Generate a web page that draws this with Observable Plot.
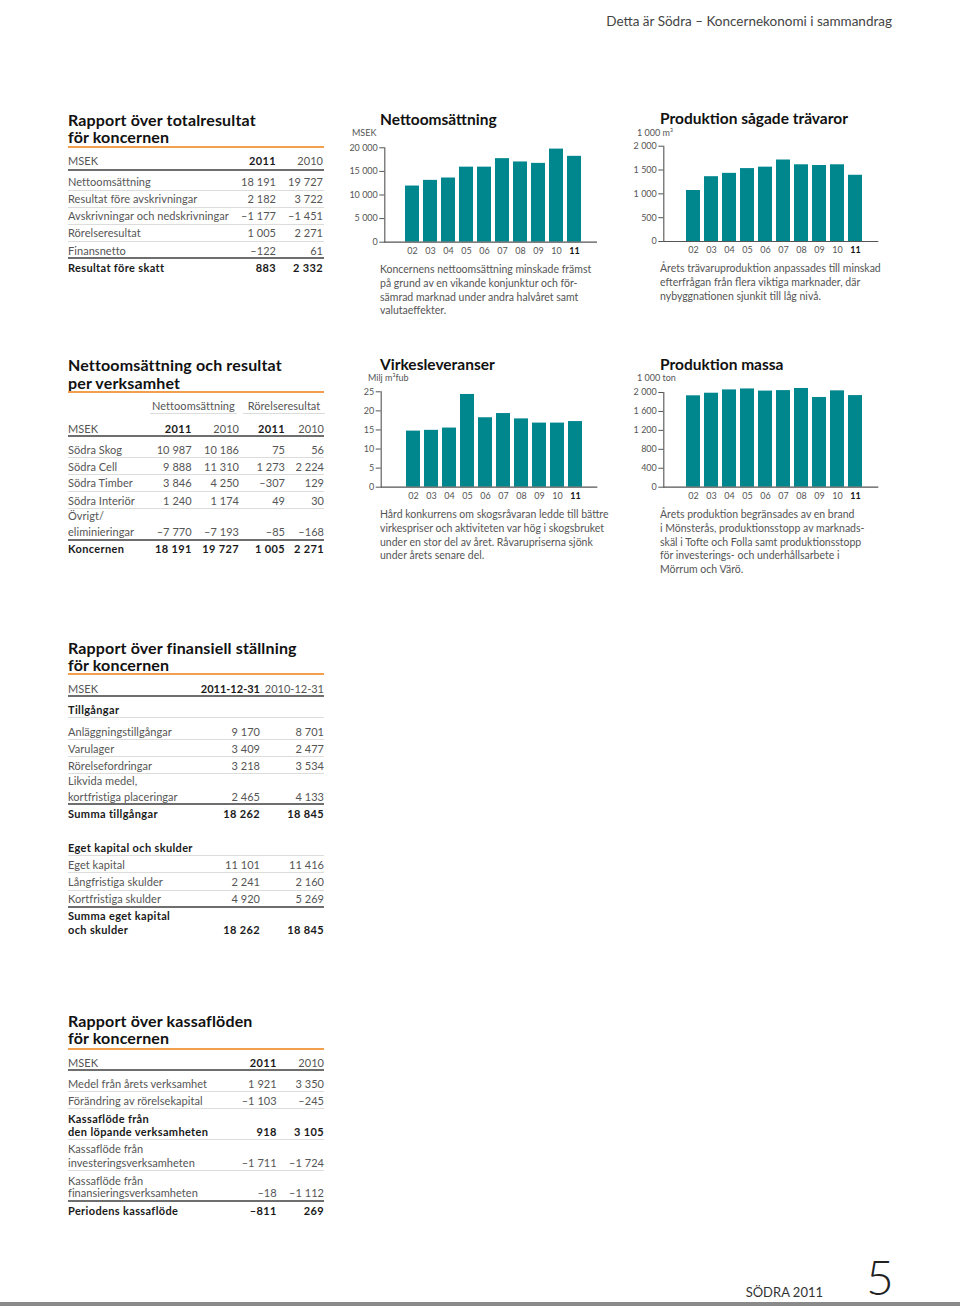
<!DOCTYPE html>
<html><head><meta charset="utf-8">
<script src="https://cdn.jsdelivr.net/npm/d3@7"></script>
<script src="https://cdn.jsdelivr.net/npm/@observablehq/plot@0.6"></script>
<style>
html,body{margin:0;padding:0;background:#fff;}
#page{position:relative;width:960px;height:1306px;overflow:hidden;font-family:Lato,"Open Sans",sans-serif;color:#555;}
.t{position:absolute;white-space:pre;}
.hl{position:absolute;}
#page svg{position:absolute;overflow:visible;}
#page g[aria-label="x-axis tick label"] text:last-of-type{font-weight:700;fill:#111;}
</style></head>
<body><div id="page"></div>
<script>
// ---------- DATA ----------
const years = ["02","03","04","05","06","07","08","09","10","11"];
const nettoSales = [11900,13100,13600,15900,15900,17700,17000,16700,19727,18191];
const sawnTimber = [1070,1360,1430,1530,1560,1710,1610,1595,1610,1390];
const woodDeliveries = [14.7,14.9,15.5,24.3,18.2,19.3,17.9,16.8,16.8,17.2];
const pulpProduction = [1930,1985,2055,2075,2030,2040,2085,1895,2035,1935];

const nettoTicks = [0,5000,10000,15000,20000];
const sawnTicks = [0,500,1000,1500,2000];
const woodTicks = [0,5,10,15,20,25];
const pulpTicks = [0,400,800,1200,1600,2000];

// Table 1
const t1Header = ["MSEK","2011","2010"];
const t1Labels = ["Nettoomsättning","Resultat före avskrivningar","Avskrivningar och nedskrivningar","Rörelseresultat","Finansnetto","Resultat före skatt"];
const t1V2011 = ["18 191","2 182","–1 177","1 005","–122","883"];
const t1V2010 = ["19 727","3 722","–1 451","2 271","61","2 332"];

// Table 2
const t2Groups = ["Nettoomsättning","Rörelseresultat"];
const t2Header = ["MSEK","2011","2010","2011","2010"];
const t2Labels = ["Södra Skog","Södra Cell","Södra Timber","Södra Interiör","Övrigt/\neliminieringar","Koncernen"];
const t2Net2011 = ["10 987","9 888","3 846","1 240","–7 770","18 191"];
const t2Net2010 = ["10 186","11 310","4 250","1 174","–7 193","19 727"];
const t2Op2011 = ["75","1 273","–307","49","–85","1 005"];
const t2Op2010 = ["56","2 224","129","30","–168","2 271"];

// Table 3
const t3Header = ["MSEK","2011-12-31","2010-12-31"];
const t3Labels = ["Tillgångar","Anläggningstillgångar","Varulager","Rörelsefordringar","Likvida medel,\nkortfristiga placeringar","Summa tillgångar","Eget kapital och skulder","Eget kapital","Långfristiga skulder","Kortfristiga skulder","Summa eget kapital\noch skulder"];
const t3V2011 = ["","9 170","3 409","3 218","2 465","18 262","","11 101","2 241","4 920","18 262"];
const t3V2010 = ["","8 701","2 477","3 534","4 133","18 845","","11 416","2 160","5 269","18 845"];

// Table 4
const t4Header = ["MSEK","2011","2010"];
const t4Labels = ["Medel från årets verksamhet","Förändring av rörelsekapital","Kassaflöde från\nden löpande verksamheten","Kassaflöde från\ninvesteringsverksamheten","Kassaflöde från\nfinansieringsverksamheten","Periodens kassaflöde"];
const t4V2011 = ["1 921","–1 103","918","–1 711","–18","–811"];
const t4V2010 = ["3 350","–245","3 105","–1 724","–1 112","269"];

// ---------- HELPERS ----------
const page = document.getElementById("page");
const TEAL = "#00868d";
const ORANGE = "#f2a04e";
const DARK = "#6e6e6e";
const LIGHT = "#dcdcdc";

function place(text, x, cy, o = {}) {
  const d = document.createElement("div");
  d.className = "t";
  const fs = o.fs || 10.5, lh = o.lh || Math.round(fs * 1.4);
  d.style.fontSize = fs + "px";
  d.style.lineHeight = lh + "px";
  d.style.top = (cy - lh / 2) + "px";
  if (o.ls) d.style.letterSpacing = o.ls + "px";
  if (o.align === "right") { d.style.left = (x - 400) + "px"; d.style.width = "400px"; d.style.textAlign = "right"; }
  else if (o.align === "center") { d.style.left = (x - 200) + "px"; d.style.width = "400px"; d.style.textAlign = "center"; }
  else d.style.left = x + "px";
  if (o.bold) d.style.fontWeight = "700";
  if (o.weight) d.style.fontWeight = o.weight;
  d.style.color = o.color || (o.bold ? "#1a1a1a" : "#555");
  d.textContent = text;
  page.appendChild(d);
  return d;
}
function hline(x1, x2, y, t, c) {
  const d = document.createElement("div");
  d.className = "hl";
  d.style.left = x1 + "px"; d.style.width = (x2 - x1) + "px";
  d.style.top = (y - t / 2) + "px"; d.style.height = t + "px";
  d.style.background = c;
  page.appendChild(d);
}

const TFS = 11;
function cell(text, x, cy, bold, align, ls) {
  const o = {fs: TFS, lh: 15, bold, ls: ls != null ? ls : (bold ? 0.35 : 0.05)};
  if (align) o.align = align;
  return place(text, x, cy, o);
}

function drawTable(cfg) {
  const L = 68, R = 324;
  cfg.title.forEach((s, i) => place(s, L, cfg.titleY[i], {fs: 16, bold: true, color: "#111", lh: 18, ls: 0.15}));
  hline(L, R, cfg.orangeY, 2, ORANGE);
  cfg.header.forEach((s, j) => {
    if (j === 0) cell(s, L, cfg.headerY, false);
    else cell(s, cfg.cols[j - 1], cfg.headerY, cfg.headerBold[j], "right", s.length > 6 ? 0 : null);
  });
  hline(L, R, cfg.headerLineY, 2, DARK);
  cfg.labels.forEach((lab, i) => {
    const ys = [].concat(cfg.rowY[i]);
    const parts = lab.split("\n");
    const bold = cfg.bold[i];
    parts.forEach((p, k) => cell(p, L, ys[k], bold));
    const vy = ys[ys.length - 1];
    cfg.values.forEach((col, j) => { if (col[i]) cell(col[i], cfg.cols[j], vy, bold, "right"); });
    const ln = cfg.lines[i];
    if (ln) hline(L, R, ln[0], ln[1] === "d" ? 2 : 1, ln[1] === "d" ? DARK : LIGHT);
  });
}

const fmt = d => d3.format(",")(d).replace(/,/g, " ");

function barChart(c) {
  const data = years.map((y, i) => ({year: y, value: c.values[i]}));
  const svg = Plot.plot({
    width: 260, height: 125,
    marginLeft: c.ml, marginRight: c.mr, marginTop: c.mt, marginBottom: c.mb,
    style: {fontFamily: "Lato, sans-serif", fontSize: "9px", color: "#555", background: "transparent"},
    x: {type: "band", domain: years, range: c.range, padding: c.padding},
    y: {domain: [0, c.ticks[c.ticks.length - 1]]},
    marks: [
      Plot.barY(data, {x: "year", y: "value", fill: TEAL}),
      Plot.frame({anchor: "left", stroke: "#555", strokeWidth: 1.1}),
      Plot.ruleY([0], {stroke: "#555", strokeWidth: 1.2}),
      Plot.axisY({ticks: c.ticks, tickSize: 5, tickPadding: 2, tickFormat: fmt, label: null}),
      Plot.axisX({tickSize: 0, tickPadding: 5, label: null})
    ]
  });
  svg.style.left = c.left + "px";
  svg.style.top = c.top + "px";
  page.appendChild(svg);
  place(c.title, c.titleX, c.titleY, {fs: 15.5, bold: true, color: "#111", lh: 18});
  place(c.unit, c.unitX, c.unitY, {fs: 9, lh: 12});
  c.caption.forEach((s, i) => place(s, c.titleX, c.capY + i * 13.7, {fs: 10.5, lh: 13.7}));
}

// ---------- PAGE HEADER / FOOTER ----------
place("Detta är Södra – Koncernekonomi i sammandrag", 892, 21, {align: "right", fs: 13.5, lh: 18, color: "#444"});
place("SÖDRA 2011", 823, 1292, {align: "right", fs: 13, lh: 16, color: "#333"});
place("5", 866, 1277, {fs: 48, lh: 50, weight: 300, color: "#222"});
hline(0, 960, 1304, 4, "#8a8a8a");

// ---------- TABLES ----------
drawTable({
  title: ["Rapport över totalresultat", "för koncernen"], titleY: [120, 137.3], orangeY: 146.7,
  header: t1Header, headerBold: [false, true, false], headerY: 160, headerLineY: 170,
  cols: [276, 323], labels: t1Labels, values: [t1V2011, t1V2010],
  bold: [false, false, false, false, false, true],
  rowY: [181.7, 198.3, 215.7, 232.7, 250, 267.3],
  lines: [[190.7, "l"], [207.7, "l"], [224.3, "l"], [241.7, "l"], [258.3, "d"], null]
});

drawTable({
  title: ["Nettoomsättning och resultat", "per verksamhet"], titleY: [365, 382.5], orangeY: 392.3,
  header: t2Header, headerBold: [false, true, false, true, false], headerY: 428.3, headerLineY: 436,
  cols: [191.7, 239, 285, 324], labels: t2Labels, values: [t2Net2011, t2Net2010, t2Op2011, t2Op2010],
  bold: [false, false, false, false, false, true],
  rowY: [449, 466, 482.7, 500, [515.7, 531.7], 548.3],
  lines: [[457.5, "l"], [474.5, "l"], [491.5, "l"], [508.3, "l"], [540, "d"], null]
});
// group headers of table 2
place(t2Groups[0], 193.4, 405.7, {align: "center", fs: TFS, lh: 15, ls: 0.05});
hline(150, 237, 413.3, 1, LIGHT);
place(t2Groups[1], 284, 405.7, {align: "center", fs: TFS, lh: 15, ls: 0.05});
hline(243, 325, 413.3, 1, LIGHT);

drawTable({
  title: ["Rapport över finansiell ställning", "för koncernen"], titleY: [647.5, 664.5], orangeY: 674.3,
  header: t3Header, headerBold: [false, true, false], headerY: 688.3, headerLineY: 696,
  cols: [260, 324], labels: t3Labels, values: [t3V2011, t3V2010],
  bold: [true, false, false, false, false, true, true, false, false, false, true],
  rowY: [709, 731.7, 748.3, 765, [780.7, 796.7], 813.3, 847.3, 864.3, 881.7, 898.3, [915.7, 929]],
  lines: [[717.3, "l"], [739.3, "l"], [756, "l"], [773, "l"], [804.3, "d"], null, [855.7, "l"], [872.7, "l"], [890, "l"], [906.7, "d"], null]
});

drawTable({
  title: ["Rapport över kassaflöden", "för koncernen"], titleY: [1021, 1038.3], orangeY: 1049,
  header: t4Header, headerBold: [false, true, false], headerY: 1062.3, headerLineY: 1070,
  cols: [276.7, 324], labels: t4Labels, values: [t4V2011, t4V2010],
  bold: [false, false, true, false, false, true],
  rowY: [1083.3, 1100, [1118.3, 1131], [1148.3, 1162.7], [1180, 1192.7], 1210.3],
  lines: [[1091.7, "l"], [1108.3, "l"], [1139.3, "l"], [1170.7, "l"], [1201, "d"], null]
});

// ---------- CHARTS ----------
barChart({
  values: nettoSales, ticks: nettoTicks, left: 345, top: 138,
  ml: 39.3, mr: 8, mt: 9.3, mb: 21.3, range: [55.3, 240.1], padding: 0.22,
  title: "Nettoomsättning", titleX: 380, titleY: 119, unit: "MSEK", unitX: 352, unitY: 133,
  capY: 270,
  caption: ["Koncernens nettoomsättning minskade främst", "på grund av en vikande konjunktur och för-", "sämrad marknad under andra halvåret samt", "valutaeffekter."]
});
barChart({
  values: sawnTimber, ticks: sawnTicks, left: 630, top: 138,
  ml: 33.3, mr: 11.7, mt: 7.7, mb: 22, range: [50.5, 236.4], padding: 0.25,
  title: "Produktion sågade trävaror", titleX: 660, titleY: 118, unit: "1 000 m³", unitX: 637, unitY: 133,
  capY: 269,
  caption: ["Årets trävaruproduktion anpassades till minskad", "efterfrågan från flera viktiga marknader, där", "nybyggnationen sjunkit till låg nivå."]
});
barChart({
  values: woodDeliveries, ticks: woodTicks, left: 345, top: 383,
  ml: 35.7, mr: 7.7, mt: 8.3, mb: 21.3, range: [55.6, 241.4], padding: 0.245,
  title: "Virkesleveranser", titleX: 380, titleY: 364, unit: "Milj m³fub", unitX: 368, unitY: 378,
  capY: 515,
  caption: ["Hård konkurrens om skogsråvaran ledde till bättre", "virkespriser och aktiviteten var hög i skogsbruket", "under en stor del av året. Råvarupriserna sjönk", "under årets senare del."]
});
barChart({
  values: pulpProduction, ticks: pulpTicks, left: 630, top: 383,
  ml: 33.3, mr: 11.7, mt: 9, mb: 21.3, range: [50.5, 236.4], padding: 0.25,
  title: "Produktion massa", titleX: 660, titleY: 364, unit: "1 000 ton", unitX: 637, unitY: 378,
  capY: 515,
  caption: ["Årets produktion begränsades av en brand", "i Mönsterås, produktionsstopp av marknads-", "skäl i Tofte och Folla samt produktionsstopp", "för investerings- och underhållsarbete i", "Mörrum och Värö."]
});
</script>
</body></html>
